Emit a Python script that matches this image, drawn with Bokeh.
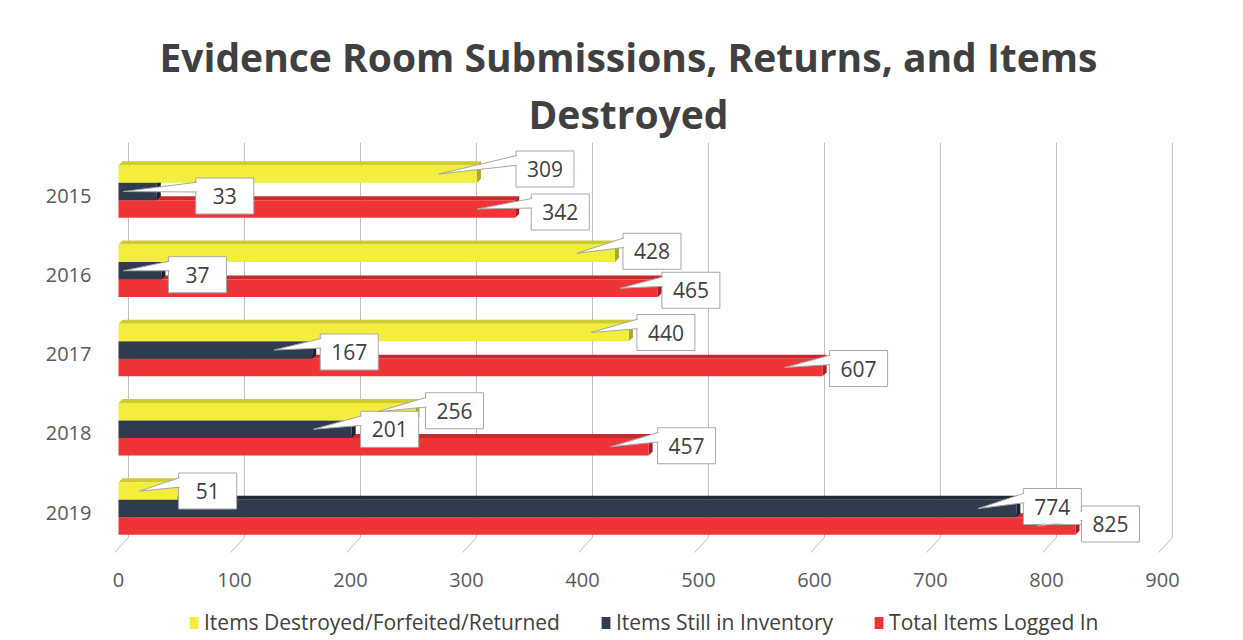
from bokeh.plotting import figure
from bokeh.models import Range1d, FixedTicker, Legend, LegendItem, Title
from bokeh.embed import file_html
from bokeh.resources import INLINE
from bokeh.core.properties import value

# ---------------- data ----------------
years = ["2015", "2016", "2017", "2018", "2019"]
destroyed = [309, 428, 440, 256, 51]
in_inventory = [33, 37, 167, 201, 774]
logged_in = [342, 465, 607, 457, 825]
series_labels = ["Items Destroyed/Forfeited/Returned",
                 "Items Still in Inventory",
                 "Total Items Logged In"]
x_ticks = [0, 100, 200, 300, 400, 500, 600, 700, 800, 900]
title_lines = ["Evidence Room Submissions, Returns, and Items", "Destroyed"]

# ---------------- layout / style ----------------
FONT = "Open Sans"
TEXT_COLOR = "#404040"
TICK_COLOR = "#595959"
GRID_COLOR = "#BFBFBF"
FRONT = ["#F3EE3C", "#2F3B4F", "#EE3437"]
TOP = ["#CFCB33", "#222C3B", "#C52A2D"]
SIDE = ["#ABA72A", "#1A222E", "#A32024"]

X_PX = 900 / 1044.0          # data units per pixel (x)
Y_PX = 1 / 79.25             # category units per pixel (y)
FRAME_W, FRAME_H = 1075, 498
x_lo = -13 * X_PX
x_hi = x_lo + FRAME_W * X_PX
y_hi = 4 + 53 * Y_PX
y_lo = y_hi - FRAME_H * Y_PX
axis_y = y_hi - 411 * Y_PX    # where the value axis sits

cat_y = [len(years) - 1 - i for i in range(len(years))]
series = [destroyed, in_inventory, logged_in]
bar_shift = [21.5 * Y_PX, 4 * Y_PX, -13.5 * Y_PX]
bar_h = 17.5 * Y_PX
DEPTH_X, DEPTH_Y = 4 * X_PX, 4 * Y_PX

# data-label callout nudges in pixels (right of bar end / downwards)
label_dx = [[68, 37, 37, 39, 30], [68, 36, 37, 38, 36], [45, 33, 36, 38, 35]]
label_dy = [[-5, -2, 0, -1, 0], [4.5, 4, 2, 0, -2], [3, 2, 1, -1, -2]]
BOX_W, BOX_H = 58, 36

p = figure(frame_width=FRAME_W, frame_height=FRAME_H,
           x_range=Range1d(x_lo, x_hi), y_range=Range1d(y_lo, y_hi),
           output_backend="svg", toolbar_location=None, title=None,
           min_border_left=105, min_border_right=63,
           min_border_top=142, min_border_bottom=0,
           background_fill_color="white", border_fill_color="white",
           outline_line_color=None)
p.xgrid.visible = False
p.ygrid.visible = False

# back-wall gridlines and floor tick marks (3D look)
n = len(x_ticks)
gx = [t + 10 * X_PX for t in x_ticks]
floor_y = -25 * Y_PX
p.segment(x0=gx, y0=[floor_y] * n, x1=gx, y1=[y_hi] * n,
          line_color=GRID_COLOR, line_width=1)
p.segment(x0=gx, y0=[floor_y] * n, x1=[t - 4 * X_PX for t in x_ticks],
          y1=[-40 * Y_PX] * n, line_color=GRID_COLOR, line_width=1)

# bars (back to front: red, navy, yellow)
renderers = {}
bar_centers = {}
for s in [2, 1, 0]:
    vals = series[s]
    ys = [c + bar_shift[s] for c in cat_y]
    bar_centers[s] = ys
    tops = [y + bar_h / 2 for y in ys]
    bots = [y - bar_h / 2 for y in ys]
    p.patches(xs=[[0, v, v + DEPTH_X, DEPTH_X] for v in vals],
              ys=[[t, t, t + DEPTH_Y, t + DEPTH_Y] for t in tops],
              fill_color=TOP[s], line_color=None)
    p.patches(xs=[[v, v, v + DEPTH_X, v + DEPTH_X] for v in vals],
              ys=[[b, t, t + DEPTH_Y, b + DEPTH_Y] for b, t in zip(bots, tops)],
              fill_color=SIDE[s], line_color=None)
    renderers[s] = p.hbar(y=ys, left=0, right=vals, height=bar_h,
                          fill_color=FRONT[s], line_color=None)

# data-label callouts
bx, by, txt, wx, wy = [], [], [], [], []
for s in range(3):
    for i, v in enumerate(series[s]):
        cy = bar_centers[s][i]
        lx = v + label_dx[s][i] * X_PX
        ly = cy - label_dy[s][i] * Y_PX
        bx.append(lx)
        by.append(ly)
        txt.append(str(v))
        tip_x = max(v - 38 * X_PX, 5 * X_PX)
        base_x = lx - (BOX_W / 2 - 3) * X_PX
        wx.append([tip_x, base_x, base_x])
        wy.append([cy, ly + 14 * Y_PX, ly + 4 * Y_PX])

p.rect(x=bx, y=by, width=BOX_W * X_PX, height=BOX_H * Y_PX,
       fill_color="white", line_color="#A6A6A6", line_width=1)
p.patches(xs=wx, ys=wy, fill_color="white", line_color="#A6A6A6", line_width=1)
p.rect(x=bx, y=by, width=(BOX_W - 2) * X_PX, height=(BOX_H - 2) * Y_PX,
       fill_color="white", line_color=None)
p.text(x=bx, y=by, text=txt, text_font=value(FONT), text_font_size="21px",
       text_align="center", text_baseline="middle", text_color=TEXT_COLOR)

# axes
p.xaxis.ticker = FixedTicker(ticks=x_ticks)
p.xaxis.fixed_location = axis_y
p.yaxis.ticker = FixedTicker(ticks=cat_y)
p.yaxis.major_label_overrides = {c: y for c, y in zip(cat_y, years)}
for ax in (p.xaxis, p.yaxis):
    ax.axis_line_color = None
    ax.major_tick_line_color = None
    ax.minor_tick_line_color = None
    ax.major_label_text_font = FONT
    ax.major_label_text_font_size = "20px"
    ax.major_label_text_color = TICK_COLOR
p.xaxis.major_label_standoff = 13
p.yaxis.major_label_standoff = 8

# legend (inside the extended frame, below the value axis)
legend = Legend(items=[LegendItem(label=series_labels[s], renderers=[renderers[s]])
                       for s in range(3)],
                orientation="horizontal", location=(83, 4),
                label_text_font=FONT, label_text_font_size="21px",
                label_text_color=TEXT_COLOR, glyph_width=11, glyph_height=15,
                label_standoff=5, spacing=40, padding=0, margin=0,
                border_line_color=None, background_fill_alpha=0)
p.add_layout(legend)

# two-line title (second line closest to the plot)
for text, standoff, off in [(title_lines[1], 5, 423), (title_lines[0], 0, 54)]:
    p.add_layout(Title(text=text, align="left", offset=off, standoff=standoff,
                       text_font=FONT, text_font_size="39px",
                       text_font_style="bold", text_color=TEXT_COLOR), "above")

open("out.html", "w").write(file_html(p, INLINE))
